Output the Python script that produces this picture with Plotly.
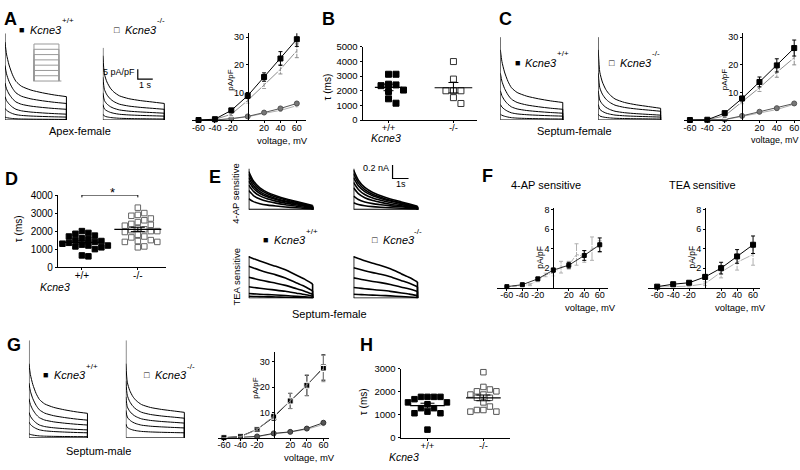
import numpy as np
import plotly.graph_objects as go

W, H = 800, 470
FONT = "Arial, Liberation Sans, Helvetica, sans-serif"

# ---------------- data ----------------
volts = [-60, -40, -20, 0, 20, 40, 60]

a_wt_peak = [0.0, 0.3, 3.5, 8.8, 15.6, 22.3, 29.3]
a_wt_peak_err = [0.1, 0.2, 0.6, 1.0, 1.5, 2.5, 2.6]
a_ko_peak = [0.0, 0.2, 2.1, 7.1, 12.7, 18.4, 25.1]
a_ko_peak_err = [0.1, 0.2, 0.5, 1.0, 1.2, 1.7, 2.5]
a_wt_sus = [0.0, 0.0, 0.5, 1.3, 2.7, 4.2, 6.0]
a_ko_sus = [0.0, 0.0, 0.4, 1.2, 2.4, 3.5, 5.2]
a_sus_err = [0.0, 0.1, 0.1, 0.2, 0.3, 0.4, 0.5]

c_wt_peak = [0.0, 0.1, 2.5, 7.8, 13.8, 19.8, 26.1]
c_wt_peak_err = [0.1, 0.1, 0.4, 0.8, 1.8, 2.4, 2.9]
c_ko_peak = [0.0, 0.1, 1.5, 6.7, 11.7, 17.3, 22.6]
c_ko_peak_err = [0.1, 0.1, 0.3, 0.8, 1.3, 1.8, 2.6]
c_wt_sus = [0.0, 0.0, 0.2, 1.5, 3.0, 4.3, 6.0]
c_ko_sus = [0.0, 0.0, 0.1, 1.3, 2.5, 3.8, 5.7]
c_sus_err = [0.0, 0.0, 0.1, 0.2, 0.3, 0.4, 0.4]

g_wt_peak = [0.0, 0.5, 3.3, 8.1, 14.5, 20.6, 27.7]
g_wt_peak_err = [0.1, 0.2, 0.6, 1.2, 3.0, 4.0, 5.0]
g_ko_peak = [0.0, 0.4, 3.2, 8.5, 14.5, 20.7, 27.3]
g_ko_peak_err = [0.1, 0.2, 0.6, 1.2, 3.0, 4.1, 5.2]
g_wt_sus = [0.0, 0.1, 0.5, 1.7, 2.3, 3.6, 5.9]
g_ko_sus = [0.0, 0.1, 0.4, 1.5, 2.2, 3.3, 5.2]
g_sus_err = [0.0, 0.0, 0.1, 0.2, 0.3, 0.4, 0.5]

f_volts_fine = [-60, -50, -40, -30, -20, -10, 0, 10, 20, 30, 40, 50, 60]
f_ap_ko = [0.1, 0.15, 0.25, 0.3, 0.75, 1.3, 1.5, 2.1, 2.3, 3.4, 3.2, 4.0, 4.2]
f_ap_ko_err = [0.05, 0.05, 0.05, 0.1, 0.15, 0.2, 0.3, 0.6, 0.4, 1.1, 0.6, 1.2, 0.6]
f_ap_wt = [0.1, 0.3, 0.9, 1.8, 2.3, 3.3, 4.4]
f_ap_wt_err = [0.05, 0.1, 0.15, 0.2, 0.3, 0.5, 0.7]
f_tea_wt = [0.1, 0.35, 0.5, 1.1, 2.0, 3.2, 4.4]
f_tea_wt_err = [0.05, 0.1, 0.15, 0.25, 0.6, 0.7, 0.9]
f_tea_ko = [0.05, 0.1, 0.15, 0.4, 1.6, 2.6, 3.4]
f_tea_ko_err = [0.05, 0.05, 0.1, 0.2, 0.6, 0.8, 1.1]

# decay time constants (ms)
b_wt = [3130, 3130, 2450, 2400, 2350, 2050, 1950, 1450, 1150]
b_ko = [4000, 2800, 2000, 2000, 2000, 1530, 1130]
d_wt = [2000, 1900, 1850, 1750, 1700, 1600, 1550, 1500, 1450, 1400,
        1350, 1300, 1250, 1200, 1200, 1150, 1100, 1000, 650, 600]
d_ko = [3300, 3000, 2900, 2850, 2700, 2600, 2500, 2400, 2350, 2300,
        2150, 2100, 2050, 2000, 2000, 1950, 1800, 1700, 1650, 1500,
        1450, 1400, 1400, 1150, 1100]
h_wt = [1770, 1770, 1770, 1770, 1670, 1530, 1530, 1450, 1280, 1280,
        1130, 1060, 1060, 350]
h_ko = [2840, 2200, 2090, 2010, 2010, 1870, 1870, 1730, 1730, 1530,
        1350, 1200, 1200, 1130, 1130]
genotypes = ["+/+", "-/-"]

# current sweeps (pA/pF), time in s
sweep_t = [0, 0.1, 0.27, 0.5, 0.73, 1.1, 1.73, 2.5, 3.3, 4.1]
decay_wt = [1, 0.78, 0.58, 0.40, 0.28, 0.19, 0.12, 0.07, 0.03, 0]
decay_ko = [1, 0.62, 0.45, 0.32, 0.24, 0.16, 0.10, 0.06, 0.03, 0]
a_wt_sw_peak = [40, 28, 19, 12, 6, 1.5]
a_wt_sw_end = [12, 8.5, 5.5, 3, 1.5, 0.3]
a_ko_sw_peak = [33, 22, 14, 8, 3]
a_ko_sw_end = [8.5, 5.5, 3.5, 2, 0.5]
c_wt_sw_peak = [36, 24, 15, 8, 3]
c_wt_sw_end = [9, 5.5, 3.5, 2, 0.5]
c_ko_sw_peak = [36, 24, 15, 8, 3]
c_ko_sw_end = [6, 4.5, 2.5, 1.5, 0.5]
g_wt_sw_peak = [38, 28, 20, 13, 8, 2]
g_wt_sw_end = [12.5, 9, 6.5, 4, 2.5, 0.5]
g_ko_sw_peak = [38, 29, 21, 14, 7]
g_ko_sw_end = [13, 10, 7.5, 5, 2.5]
spike_a_wt, spike_a_ko, spike_c, spike_g = 44.5, 37, 42.5, 50

# E sweeps (nA)
e_t = [0, 0.3, 0.7, 1.2, 1.7, 2.3, 3.0, 3.5, 4.0]
e_ap_decay = [1, 0.72, 0.52, 0.38, 0.29, 0.2, 0.12, 0.06, 0]
e_tea_decay = [1, 0.93, 0.84, 0.74, 0.65, 0.52, 0.32, 0.18, 0]
e_ap_wt_peak = [0.56, 0.52, 0.47, 0.42, 0.36, 0.28, 0.16]
e_ap_wt_end = [0.06, 0.05, 0.04, 0.04, 0.03, 0.02, 0.01]
e_ap_ko_peak = [0.58, 0.53, 0.47, 0.4, 0.32, 0.2, 0.1]
e_ap_ko_end = [0.05, 0.04, 0.04, 0.03, 0.02, 0.02, 0.01]
e_tea_wt_peak = [0.61, 0.47, 0.31, 0.17, 0.07, 0.03]
e_tea_wt_end = [0.21, 0.11, 0.06, 0.03, 0.01, 0.0]
e_tea_ko_peak = [0.61, 0.45, 0.3, 0.16, 0.06]
e_tea_ko_end = [0.24, 0.17, 0.1, 0.04, 0.01]

# voltage protocol (mV, s)
prot_hold = -80
prot_steps = [-60, -40, -20, 0, 20, 40, 60]
prot_on, prot_off = 0.0, 4.0

# scale bars
sb_a_current, sb_a_time = 5, 1      # pA/pF, s
sb_e_current, sb_e_time = 0.2, 1    # nA, s

# ---------------- helpers ----------------
fig = go.Figure()
axes_layout = {}
annotations = []
_count = [0]


def add_axes(x0, x1, y0, y1, xr, yr, xaxis=None, yaxis=None):
    _count[0] += 1
    k = _count[0]
    s = "" if k == 1 else str(k)
    xa = dict(domain=[x0 / W, x1 / W], range=xr, anchor="y" + s, visible=False, fixedrange=True)
    ya = dict(domain=[1 - y1 / H, 1 - y0 / H], range=yr, anchor="x" + s, visible=False, fixedrange=True)
    if xaxis:
        xa.update(xaxis)
    if yaxis:
        ya.update(yaxis)
    axes_layout["xaxis" + s] = xa
    axes_layout["yaxis" + s] = ya
    return "x" + s, "y" + s


def txt(x, y, s, size=10, xanchor="center", yanchor="middle", angle=0, bold=False, italic=False, color="black"):
    if bold:
        s = "<b>" + s + "</b>"
    if italic:
        s = "<i>" + s + "</i>"
    annotations.append(dict(x=x / W, y=1 - y / H, xref="paper", yref="paper", text=s, showarrow=False,
                            font=dict(family=FONT, size=size, color=color), xanchor=xanchor,
                            yanchor=yanchor, textangle=angle, borderpad=0))


def legend(xsq, y, filled, sup, ysup):
    txt(xsq, y, "■" if filled else "□", size=9)
    txt(xsq + 7, y, "Kcne3", size=11, xanchor="left", italic=True)
    txt(xsq + 39, ysup, sup, size=8, xanchor="left")


AX_COMMON = dict(visible=True, showline=True, linecolor="black", linewidth=1, ticks="outside", ticklen=2,
                 tickwidth=1, tickcolor="black", showgrid=False, zeroline=False,
                 tickfont=dict(family=FONT, size=9, color="black"))


def iv_axes(x0, x1, zero_px, ytop, ybot, ppm, ppu, yticks):
    xr = [-(zero_px - x0) / ppm, (x1 - zero_px) / ppm]
    yr = [0, (ybot - ytop) / ppu]
    xt = [-60, -40, -20, 20, 40, 60]
    xaxis = dict(AX_COMMON, tickvals=xt, ticktext=[str(v) for v in xt], ticklabelstandoff=-3)
    yaxis = dict(AX_COMMON, tickvals=yticks, ticktext=[str(v) for v in yticks], anchor="free",
                 position=zero_px / W)
    return add_axes(x0, x1, ytop, ybot, xr, yr, xaxis, yaxis)


def iv_series(xa, ya, x, y, err, symbol, fill, color, size=5, lcolor=None):
    fig.add_trace(go.Scatter(x=x, y=y, xaxis=xa, yaxis=ya, mode="lines+markers", cliponaxis=False,
                             line=dict(color=lcolor or color, width=1),
                             marker=dict(symbol=symbol, size=size, color=fill, line=dict(color=color, width=1)),
                             error_y=dict(type="data", array=err, color=color, thickness=1, width=2),
                             hoverinfo="skip"))


def sweeps(xa, ya, t, decay, peaks, ends, spike, width=1.0, color="black"):
    T = t[-1]
    for p, e in zip(peaks, ends):
        y = [e + (p - e) * f for f in decay]
        fig.add_trace(go.Scatter(x=t, y=y, xaxis=xa, yaxis=ya, mode="lines", cliponaxis=False,
                                 line=dict(color=color, width=width, shape="spline", smoothing=0.6),
                                 hoverinfo="skip"))
    ex, ey = [0, 0, None], [0, spike, None]
    for e in ends:
        ex += [T, T, None]
        ey += [e, 0, None]
    ex += [0, T]
    ey += [0, 0]
    fig.add_trace(go.Scatter(x=ex, y=ey, xaxis=xa, yaxis=ya, mode="lines", cliponaxis=False,
                             line=dict(color=color, width=width), hoverinfo="skip"))


def swarm(vals, ppv, step):
    vals = np.asarray(vals, float)
    order = np.argsort(-vals)
    placed = []
    offs = np.zeros(len(vals))
    for i in order:
        y = vals[i] * ppv
        k = 0
        while True:
            cand = 0 if k == 0 else ((k + 1) // 2) * step * (1 if k % 2 else -1)
            if all(not (abs(y - py) < step * 0.9 and abs(cand - pxx) < step * 0.9) for py, pxx in placed):
                break
            k += 1
        placed.append((y, cand))
        offs[i] = cand
    return offs


def tau_panel(xa, ya, ppu_x, ppv, groups, size, step, half_w, cap):
    for gi, (vals, filled, col) in enumerate(groups):
        off = swarm(vals, ppv, step) / ppu_x
        fig.add_trace(go.Scatter(x=gi + off, y=vals, xaxis=xa, yaxis=ya, mode="markers", cliponaxis=False,
                                 marker=dict(symbol="square" if filled else "square-open", size=size,
                                             color="black" if filled else col,
                                             line=dict(color=col, width=1)),
                                 hoverinfo="skip"))
        m = float(np.mean(vals))
        sem = float(np.std(vals, ddof=1) / np.sqrt(len(vals)))
        fig.add_trace(go.Scatter(x=[gi - half_w[gi], gi + half_w[gi]], y=[m, m], xaxis=xa, yaxis=ya,
                                 mode="lines", line=dict(color="black", width=1.2), hoverinfo="skip"))
        fig.add_trace(go.Scatter(x=[gi], y=[m], xaxis=xa, yaxis=ya, mode="markers",
                                 marker=dict(size=1, color="black"),
                                 error_y=dict(type="data", array=[sem], color="black", thickness=1, width=cap),
                                 hoverinfo="skip"))


def tau_axes(x0, x1, ytop, ybot, c0, ppu, ymax, yticks, fs=10):
    xr = [-(c0 - x0) / ppu, (x1 - c0) / ppu]
    xaxis = dict(AX_COMMON, tickvals=[0, 1], ticktext=genotypes, tickfont=dict(family=FONT, size=fs),
                 ticklabelstandoff=-3)
    yaxis = dict(AX_COMMON, tickvals=yticks, ticktext=[str(v) for v in yticks],
                 tickfont=dict(family=FONT, size=fs))
    return add_axes(x0, x1, ytop, ybot, xr, [0, ymax], xaxis, yaxis)


GRAY = "#8c8c8c"
LGRAY = "#b0b0b0"

# ---------------- Panel A ----------------
xa, ya = add_axes(4, 67, 28, 117, [0, 4.2], [0, 44.5])
sweeps(xa, ya, sweep_t, decay_wt, a_wt_sw_peak, a_wt_sw_end, spike_a_wt)
xa, ya = add_axes(102, 165, 28, 117, [0, 4.2], [0, 44.5])
sweeps(xa, ya, sweep_t, decay_ko, a_ko_sw_peak, a_ko_sw_end, spike_a_ko)
t0, i0 = 2.33, 21
fig.add_trace(go.Scatter(x=[t0, t0, t0 + sb_a_time], y=[i0 + sb_a_current, i0, i0], xaxis=xa, yaxis=ya,
                         mode="lines", line=dict(color="black", width=1.2), hoverinfo="skip"))
# protocol inset
xa, ya = add_axes(31, 62, 37, 79, [-0.32, 4.64], [-87.4, 67.4])
px_, py_ = [-0.1, 4.4, None], [prot_hold, prot_hold, None]
for v in prot_steps:
    px_ += [prot_on, prot_on, prot_off, prot_off, None]
    py_ += [prot_hold, v, v, prot_hold, None]
fig.add_trace(go.Scatter(x=px_, y=py_, xaxis=xa, yaxis=ya, mode="lines", line=dict(color="#999999", width=1),
                         hoverinfo="skip"))
# IV
xa, ya = iv_axes(191, 305, 247, 28, 117, 0.82, 2.83, [10, 20, 30])
iv_series(xa, ya, volts, a_ko_sus, a_sus_err, "circle-open", "white", LGRAY)
iv_series(xa, ya, volts, a_wt_sus, a_sus_err, "circle", "#777777", "#555555")
iv_series(xa, ya, volts, a_ko_peak, a_ko_peak_err, "square-open", "white", GRAY)
iv_series(xa, ya, volts, a_wt_peak, a_wt_peak_err, "square", "black", "black")

txt(2, 13, "A", size=18, xanchor="left", bold=True)
legend(21, 25, True, "+/+", 15)
legend(116, 25, False, "-/-", 15)
txt(135, 68, "5 pA/pF", size=9, xanchor="right")
txt(145, 81, "1 s", size=9)
txt(79, 128, "Apex-female", size=11)
txt(229, 76, "pA/pF", size=8, angle=-90)
txt(282, 138, "voltage, mV", size=9.5)

# ---------------- Panel B ----------------
xa, ya = tau_axes(362, 477, 42, 117, 388, 65, 5000, [0, 1000, 2000, 3000, 4000, 5000], fs=9.5)
tau_panel(xa, ya, 65, 75 / 5000, [(b_wt, True, "black"), (b_ko, False, "#333333")], 6, 7.5, [0.21, 0.29], 5)
txt(320, 13, "B", size=18, xanchor="left", bold=True)
txt(327, 83, "τ (ms)", size=10, angle=-90)
txt(385, 135, "Kcne3", size=10.5, italic=True)

# ---------------- Panel C ----------------
xa, ya = add_axes(500, 564, 28, 117, [0, 4.2], [0, 44.5])
sweeps(xa, ya, sweep_t, decay_wt, c_wt_sw_peak, c_wt_sw_end, spike_c)
xa, ya = add_axes(598, 662, 28, 117, [0, 4.2], [0, 44.5])
sweeps(xa, ya, sweep_t, decay_ko, c_ko_sw_peak, c_ko_sw_end, spike_c)
xa, ya = iv_axes(684, 800, 742, 28, 117, 0.87, 2.83, [10, 20, 30])
iv_series(xa, ya, volts, c_ko_sus, c_sus_err, "circle-open", "white", LGRAY)
iv_series(xa, ya, volts, c_wt_sus, c_sus_err, "circle", "#777777", "#555555")
iv_series(xa, ya, volts, c_ko_peak, c_ko_peak_err, "square-open", "white", GRAY)
iv_series(xa, ya, volts, c_wt_peak, c_wt_peak_err, "square", "black", "black")
txt(498, 13, "C", size=18, xanchor="left", bold=True)
legend(517, 58, True, "+/+", 49)
legend(612, 58, False, "-/-", 49)
txt(574, 128, "Septum-female", size=11)
txt(724, 76, "pA/pF", size=8, angle=-90)
txt(775, 138, "voltage, mV", size=9)

# ---------------- Panel D ----------------
xa, ya = tau_axes(57, 165, 194, 268, 81, 56, 4000, [0, 1000, 2000, 3000, 4000])
tau_panel(xa, ya, 56, 74 / 4000, [(d_wt, True, "black"), (d_ko, False, "#666666")], 5.5, 6.5, [0.4, 0.42], 7)
fig.add_trace(go.Scatter(x=[0, 0, None, 0, 1, None, 1, 1], y=[3870, 4130, None, 4000, 4000, None, 3870, 4130],
                         xaxis=xa, yaxis=ya, mode="lines", cliponaxis=False,
                         line=dict(color="black", width=1), hoverinfo="skip"))
txt(3, 178, "D", size=18, xanchor="left", bold=True)
txt(17, 228, "τ (ms)", size=10, angle=-90)
txt(54, 288, "Kcne3", size=10.5, italic=True)
txt(112, 191, "*", size=13)

# ---------------- Panel E ----------------
xa, ya = add_axes(248, 314, 158, 209, [0, 4.125], [0, 0.729])
sweeps(xa, ya, e_t, e_ap_decay, e_ap_wt_peak, e_ap_wt_end, 0.6, width=1.6)
xa, ya = add_axes(353, 419, 158, 209, [0, 4.125], [0, 0.729])
sweeps(xa, ya, e_t, e_ap_decay, e_ap_ko_peak, e_ap_ko_end, 0.6, width=1.6)
t0, i0 = 2.44, 0.457
fig.add_trace(go.Scatter(x=[t0, t0, t0 + sb_e_time], y=[i0 + sb_e_current, i0, i0], xaxis=xa, yaxis=ya,
                         mode="lines", cliponaxis=False, line=dict(color="black", width=1.2), hoverinfo="skip"))
xa, ya = add_axes(248, 314, 255, 300, [0, 4.125], [0, 0.643])
sweeps(xa, ya, e_t, e_tea_decay, e_tea_wt_peak, e_tea_wt_end, 0.62, width=1.6)
xa, ya = add_axes(353, 419, 255, 300, [0, 4.125], [0, 0.643])
sweeps(xa, ya, e_t, e_tea_decay, e_tea_ko_peak, e_tea_ko_end, 0.62, width=1.6)
txt(207, 175, "E", size=18, xanchor="left", bold=True)
txt(234, 192, "4-AP sensitive", size=9.5, angle=-90)
txt(236, 278, "TEA sensitive", size=9.5, angle=-90)
txt(389, 166, "0.2 nA", size=9, xanchor="right")
txt(401, 183, "1s", size=9)
legend(265, 240, True, "+/+", 231)
legend(374, 240, False, "-/-", 231)
txt(329, 316, "Septum-female", size=11)

# ---------------- Panel F ----------------
xa, ya = iv_axes(497, 608, 553, 207, 289, 0.775, 10, [2, 4, 6, 8])
iv_series(xa, ya, f_volts_fine, f_ap_ko, f_ap_ko_err, "square-open", "white", LGRAY, size=6)
iv_series(xa, ya, volts, f_ap_wt, f_ap_wt_err, "square", "black", "black", size=4, lcolor="#333333")
xa, ya = iv_axes(648, 760, 705, 207, 289, 0.8, 10, [2, 4, 6, 8])
iv_series(xa, ya, volts, f_tea_ko, f_tea_ko_err, "square-open", "white", LGRAY, size=6)
iv_series(xa, ya, volts, f_tea_wt, f_tea_wt_err, "square", "black", "black", size=5)
txt(481, 174, "F", size=18, xanchor="left", bold=True)
txt(546, 184, "4-AP sensitive", size=11)
txt(702, 184, "TEA sensitive", size=11)
txt(540, 258, "pA/pF", size=8.5, angle=-90)
txt(590, 309, "voltage, mV", size=9.5)
txt(692, 258, "pA/pF", size=8.5, angle=-90)
txt(740, 309, "voltage, mV", size=9.5)

# ---------------- Panel G ----------------
xa, ya = add_axes(28, 88, 343, 443, [0, 4.2], [0, 50])
sweeps(xa, ya, sweep_t, decay_wt, g_wt_sw_peak, g_wt_sw_end, spike_g)
xa, ya = add_axes(125, 185, 343, 443, [0, 4.2], [0, 50])
sweeps(xa, ya, sweep_t, decay_ko, g_ko_sw_peak, g_ko_sw_end, spike_g)
xa, ya = iv_axes(217, 328, 273, 355, 443, 0.83, 2.6, [10, 20, 30])
iv_series(xa, ya, volts, g_ko_sus, g_sus_err, "circle-open", "white", LGRAY)
iv_series(xa, ya, volts, g_wt_sus, g_sus_err, "circle", "#555555", "#333333")
iv_series(xa, ya, volts, g_wt_peak, g_wt_peak_err, "square", "black", "black")
iv_series(xa, ya, volts, g_ko_peak, g_ko_peak_err, "square-open", "white", GRAY, size=6)
txt(5, 348, "G", size=18, xanchor="left", bold=True)
legend(45, 379, True, "+/+", 370)
legend(146, 379, False, "-/-", 370)
txt(98, 457, "Septum-male", size=11)
txt(255, 392, "pA/pF", size=8, angle=-90)
txt(309, 463, "voltage, mV", size=9.5)

# ---------------- Panel H ----------------
xa, ya = tau_axes(400, 510, 372, 443, 427, 56, 3000, [0, 1000, 2000, 3000], fs=9.5)
tau_panel(xa, ya, 56, 71 / 3000, [(h_wt, True, "black"), (h_ko, False, "#555555")], 5.5, 6.5, [0.31, 0.31], 7)
txt(358, 348, "H", size=18, xanchor="left", bold=True)
txt(363, 406, "τ (ms)", size=10, angle=-90)
txt(404, 463, "Kcne3", size=10.5, italic=True)

fig.update_layout(width=W, height=H, margin=dict(l=0, r=0, t=0, b=0), showlegend=False,
                  paper_bgcolor="white", plot_bgcolor="white", annotations=annotations,
                  font=dict(family=FONT, color="black"), **axes_layout)
fig.write_html("out.html", config={"displayModeBar": False},
               post_script="document.body.style.margin='0px';")
